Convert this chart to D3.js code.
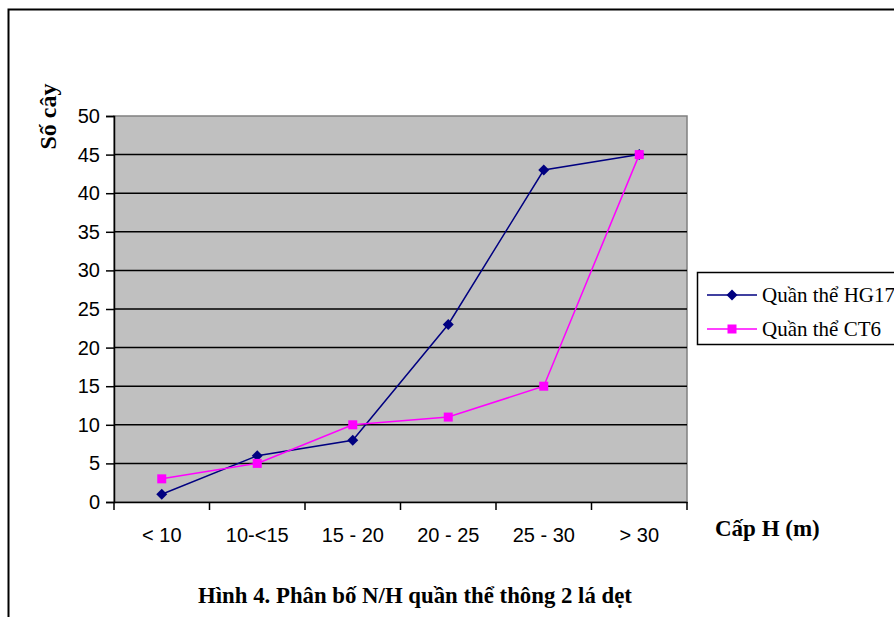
<!DOCTYPE html>
<html>
<head>
<meta charset="utf-8">
<script src="https://cdn.jsdelivr.net/npm/d3@7"></script>
<style>
  html, body { margin: 0; padding: 0; background: #fff; }
  svg { display: block; }
</style>
</head>
<body>
<svg id="chart" width="894" height="617"></svg>
<script>
// Height classes (m) and tree counts per population
const categories = ["< 10", "10-<15", "15 - 20", "20 - 25", "25 - 30", "> 30"];
const hg17 = [1, 6, 8, 23, 43, 45];
const ct6 = [3, 5, 10, 11, 15, 45];
const yTicks = [0, 5, 10, 15, 20, 25, 30, 35, 40, 45, 50];
const seriesNames = ["Quần thể HG17", "Quần thể CT6"];

const SERIF = "'Liberation Serif', 'Times New Roman', serif";
const SANS = "'Liberation Sans', Arial, sans-serif";

const svg = d3.select("#chart");
const plot = { left: 114, right: 687, top: 116, bottom: 502 };

// Outer chart frame (left and top edges visible)
svg.append("path")
  .attr("d", "M8.5,617 V9.5 H894")
  .attr("fill", "none").attr("stroke", "#000").attr("stroke-width", 2);

const x = d3.scaleBand().domain(categories).range([plot.left, plot.right]);
const y = d3.scaleLinear().domain([0, 50]).range([plot.bottom, plot.top]);

// Plot area
svg.append("rect")
  .attr("x", plot.left).attr("y", plot.top)
  .attr("width", plot.right - plot.left).attr("height", plot.bottom - plot.top)
  .attr("fill", "#C0C0C0").attr("stroke", "#808080").attr("stroke-width", 1.5);

// Horizontal gridlines
svg.append("g").selectAll("line").data(yTicks.filter(d => d > 0 && d < 50)).join("line")
  .attr("x1", plot.left).attr("x2", plot.right)
  .attr("y1", d => y(d)).attr("y2", d => y(d))
  .attr("stroke", "#000").attr("stroke-width", 1.5);

// Y axis
const yAxis = svg.append("g")
  .attr("transform", `translate(${plot.left},0)`)
  .call(d3.axisLeft(y).tickValues(yTicks).tickSize(8).tickPadding(6));
yAxis.select(".domain").attr("stroke", "#000").attr("stroke-width", 1.5);
yAxis.selectAll(".tick line").attr("stroke", "#000").attr("stroke-width", 1.5);
yAxis.selectAll("text")
  .attr("font-family", SANS)
  .attr("font-size", 20).attr("fill", "#000");

// X axis with ticks on category boundaries
const xAxis = svg.append("g")
  .attr("transform", `translate(0,${plot.bottom})`)
  .call(d3.axisBottom(x).tickSize(0).tickPadding(26));
xAxis.select(".domain").attr("stroke", "#000").attr("stroke-width", 1.5);
xAxis.selectAll("text")
  .attr("font-family", SANS)
  .attr("font-size", 20).attr("fill", "#000");
const bounds = categories.map(c => x(c)).concat([plot.right]);
xAxis.selectAll(".bound").data(bounds).join("line")
  .attr("class", "bound")
  .attr("x1", d => d).attr("x2", d => d)
  .attr("y1", 0).attr("y2", 8)
  .attr("stroke", "#000").attr("stroke-width", 1.5);

const cx = c => x(c) + x.bandwidth() / 2;

// Series lines
const line = d3.line().x((d, i) => cx(categories[i])).y(d => y(d));
svg.append("path").datum(hg17).attr("d", line)
  .attr("fill", "none").attr("stroke", "#000080").attr("stroke-width", 1.5);
svg.append("path").datum(ct6).attr("d", line)
  .attr("fill", "none").attr("stroke", "#FF00FF").attr("stroke-width", 1.5);

const diamond = (px, py, r) => `M${px},${py - r} L${px + r},${py} L${px},${py + r} L${px - r},${py} Z`;

// Markers
svg.append("g").selectAll("path").data(hg17).join("path")
  .attr("d", (d, i) => diamond(cx(categories[i]), y(d), 5.5))
  .attr("fill", "#000080");
svg.append("g").selectAll("rect").data(ct6).join("rect")
  .attr("x", (d, i) => cx(categories[i]) - 4.5).attr("y", d => y(d) - 4.5)
  .attr("width", 9).attr("height", 9)
  .attr("fill", "#FF00FF");

// Axis titles
svg.append("text")
  .attr("transform", "translate(56,116.5) rotate(-90)")
  .attr("text-anchor", "middle")
  .attr("font-family", SERIF)
  .attr("font-weight", "bold").attr("font-size", 24)
  .text("Số cây");
svg.append("text")
  .attr("x", 715).attr("y", 536)
  .attr("font-family", SERIF)
  .attr("font-weight", "bold").attr("font-size", 23)
  .text("Cấp H (m)");

// Caption
svg.append("text")
  .attr("x", 415).attr("y", 603)
  .attr("text-anchor", "middle")
  .attr("font-family", SERIF)
  .attr("font-weight", "bold").attr("font-size", 22.8)
  .text("Hình 4. Phân bố N/H quần thể thông 2 lá dẹt");

// Legend
const lg = svg.append("g");
lg.append("rect")
  .attr("x", 697.5).attr("y", 272.5).attr("width", 220).attr("height", 72)
  .attr("fill", "#fff").attr("stroke", "#000").attr("stroke-width", 1.5);
const legendItems = [
  { name: seriesNames[0], color: "#000080", shape: "diamond", y: 295 },
  { name: seriesNames[1], color: "#FF00FF", shape: "square", y: 329 }
];
legendItems.forEach(it => {
  lg.append("line").attr("x1", 707).attr("x2", 757).attr("y1", it.y).attr("y2", it.y)
    .attr("stroke", it.color).attr("stroke-width", 1.5);
  if (it.shape === "diamond") {
    lg.append("path").attr("d", diamond(732, it.y, 5.5)).attr("fill", it.color);
  } else {
    lg.append("rect").attr("x", 727.5).attr("y", it.y - 4.5).attr("width", 9).attr("height", 9)
      .attr("fill", it.color);
  }
  lg.append("text").attr("x", 762).attr("y", it.y + 7)
    .attr("font-family", SERIF)
    .attr("font-size", 21).text(it.name);
});
</script>
</body>
</html>
